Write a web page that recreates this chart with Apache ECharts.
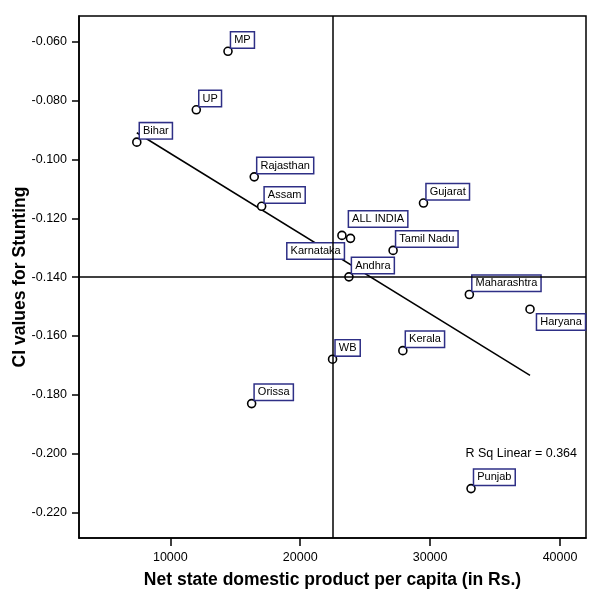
<!DOCTYPE html>
<html>
<head>
<meta charset="utf-8">
<script src="https://cdn.jsdelivr.net/npm/echarts@6/dist/echarts.min.js"></script>
<style>
html,body{margin:0;padding:0;background:#fff;}
#chart{width:600px;height:605px;}
</style>
</head>
<body>
<div id="chart"></div>
<script>
// ---- data ----
const states = ['MP','UP','Bihar','Rajasthan','Assam','Gujarat','ALL INDIA','Karnataka','Tamil Nadu','Andhra','Maharashtra','Haryana','Kerala','WB','Orissa','Punjab'];
const nsdpPerCapita = [14440, 12000, 7420, 16460, 17030, 29490, 23210, 23870, 27150, 23750, 33020, 37690, 27900, 22490, 16260, 33150];
const ciStunting = [-0.0632, -0.0831, -0.0941, -0.1059, -0.1159, -0.1148, -0.1258, -0.1268, -0.1309, -0.1399, -0.1459, -0.1509, -0.1650, -0.1679, -0.1830, -0.2119];
const fitX = [7420, 37690];
const fitY = [-0.0909, -0.1734];
const refLineX = 22500;
const refLineY = -0.140;
const xTickValues = [10000, 20000, 30000, 40000];
const yTickValues = [-0.220, -0.200, -0.180, -0.160, -0.140, -0.120, -0.100, -0.080, -0.060];
const rSqText = 'R Sq Linear = 0.364';
const xTitle = 'Net state domestic product per capita (in Rs.)';
const yTitle = 'CI values for Stunting';

// ---- styling / layout ----
const FONT = 'Liberation Sans, Arial, Helvetica, sans-serif';
const labelBase = {
  show: true,
  formatter: '{b}',
  color: '#000',
  fontFamily: FONT,
  fontSize: 11,
  lineHeight: 13,
  backgroundColor: '#fff',
  borderColor: '#2e2f86',
  borderWidth: 1.5,
  padding: [1, 3, 1, 3]
};
// special label placements (others sit at upper right of their point)
const specialPlacement = {
  'Karnataka': {position: [-2, 10], align: 'right', verticalAlign: 'top'},
  'ALL INDIA': {position: [12, -4], align: 'left', verticalAlign: 'bottom'},
  'Haryana':   {position: [12, 10], align: 'left', verticalAlign: 'top'}
};
const defaultPlacement = {position: [8, 1], align: 'left', verticalAlign: 'bottom'};

const points = states.map((name, i) => {
  const p = specialPlacement[name] || defaultPlacement;
  return {name: name, value: [nsdpPerCapita[i], ciStunting[i]], label: Object.assign({}, labelBase, p)};
});

const chart = echarts.init(document.getElementById('chart'), null, {renderer: 'canvas'});
const axisLineStyle = {color: '#000', width: 1.5};
chart.setOption({
  animation: false,
  backgroundColor: '#fff',
  title: {
    text: rSqText,
    right: 23, top: 447, padding: 0,
    textStyle: {fontFamily: FONT, fontSize: 12.5, fontWeight: 'normal', color: '#000'}
  },
  grid: {left: 79, right: 14, top: 16, bottom: 67, containLabel: false, outerBoundsMode: 'none',
         show: true, borderColor: '#000', borderWidth: 1.5, backgroundColor: 'transparent'},
  xAxis: {
    type: 'value', min: 2970, max: 42000,
    name: xTitle, nameLocation: 'middle', nameGap: 33, nameMoveOverlap: false,
    nameTextStyle: {fontFamily: FONT, fontSize: 17.5, fontWeight: 'bold', color: '#000'},
    axisLine: {show: true, lineStyle: axisLineStyle},
    axisTick: {show: true, length: 8, lineStyle: axisLineStyle, customValues: xTickValues},
    axisLabel: {customValues: xTickValues, margin: 13, fontFamily: FONT, fontSize: 12.5, color: '#000', formatter: v => String(v)},
    splitLine: {show: false}
  },
  yAxis: {
    type: 'value', min: -0.2287, max: -0.0512,
    name: yTitle, nameLocation: 'middle', nameGap: 50, nameMoveOverlap: false,
    nameTextStyle: {fontFamily: FONT, fontSize: 17.5, fontWeight: 'bold', color: '#000'},
    axisLine: {show: true, lineStyle: axisLineStyle},
    axisTick: {show: true, length: 7, lineStyle: axisLineStyle, customValues: yTickValues},
    axisLabel: {customValues: yTickValues, margin: 12, fontFamily: FONT, fontSize: 12.5, color: '#000', formatter: v => v.toFixed(3)},
    splitLine: {show: false}
  },
  series: [
    {
      type: 'line',
      data: fitX.map((x, i) => [x, fitY[i]]),
      symbol: 'none',
      lineStyle: {color: '#000', width: 1.5},
      silent: true,
      z: 2,
      markLine: {
        silent: true,
        symbol: ['none', 'none'],
        label: {show: false},
        lineStyle: {color: '#000', width: 1.5, type: 'solid'},
        data: [{xAxis: refLineX}, {yAxis: refLineY}]
      }
    },
    {
      type: 'scatter',
      data: points,
      symbol: 'circle',
      symbolSize: 8,
      itemStyle: {color: '#fff', borderColor: '#000', borderWidth: 1.6, opacity: 1},
      z: 3,
      labelLayout: {hideOverlap: false}
    }
  ]
});
</script>
</body>
</html>
